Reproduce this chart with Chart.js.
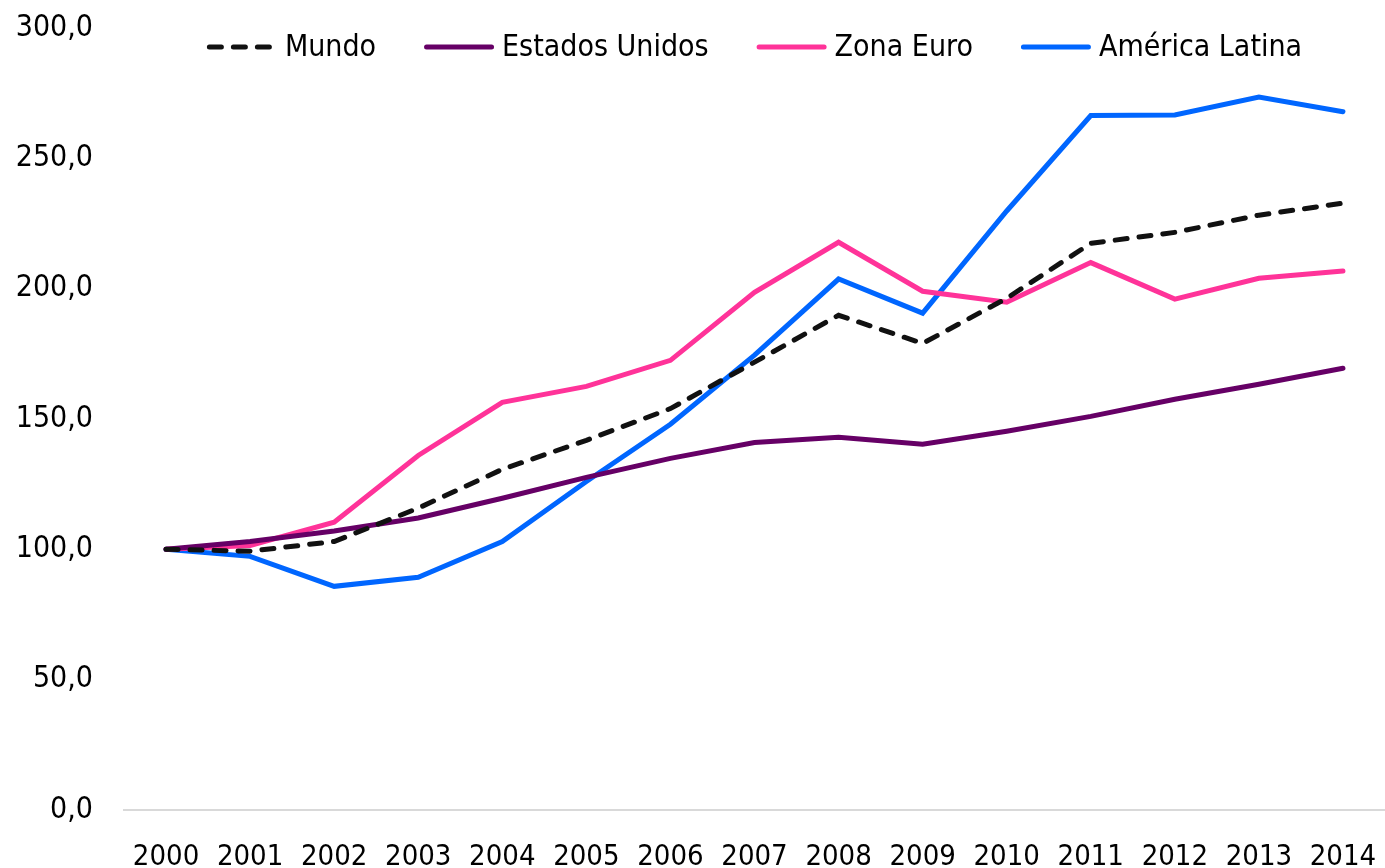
<!DOCTYPE html>
<html>
<head>
<meta charset="utf-8">
<script src="https://cdn.jsdelivr.net/npm/chart.js@4"></script>
<style>
  html, body { margin: 0; padding: 0; background: #fff; }
  #wrap { width: 1385px; height: 868px; }
</style>
</head>
<body>
<div id="wrap"><canvas id="myChart" width="1385" height="868"></canvas></div>
<script>
const years = ['2000','2001','2002','2003','2004','2005','2006','2007','2008','2009','2010','2011','2012','2013','2014'];
const mundo = [100, 99.3, 103, 115.8, 130.7, 141.8, 154, 171.8, 189.8, 179, 196.3, 217.4, 221.6, 228.2, 232.8];
const estadosUnidos = [100, 103, 107, 112, 119.6, 127.6, 134.9, 141, 143, 140.3, 145.3, 151, 157.6, 163.3, 169.5];
const zonaEuro = [100, 101.5, 110.4, 136, 156.4, 162.5, 172.5, 198.6, 217.8, 199, 194.8, 210, 196, 204, 206.8];
const americaLatina = [100, 97.3, 85.8, 89.3, 103, 126, 148, 174.5, 203.7, 190.6, 229.8, 266.4, 266.6, 273.5, 267.9];
const yTicks = [0, 50, 100, 150, 200, 250, 300];

const fontFamily = "'DejaVu Sans Condensed', 'DejaVu Sans', sans-serif";

function serie(label, data, color, dash) {
    return {
        label: label,
        data: data,
        borderColor: color,
        backgroundColor: color,
        borderWidth: 5,
        borderDash: dash,
        borderCapStyle: 'round',
        pointRadius: 0,
        tension: 0,
        fill: false,
    };
}

// legend drawn inside the plot, centred near the top (like the excel original)
const topLegend = {
    id: 'topLegend',
    afterDraw(chart) {
        const c = chart.ctx;
        const area = chart.chartArea;
        const sample = 70, gap = 8, spacing = 48;
        c.save();
        c.font = '30px ' + fontFamily;
        c.textBaseline = 'middle';
        c.textAlign = 'left';
        const items = chart.data.datasets.map(ds => ({ ds: ds, w: c.measureText(ds.label).width }));
        let total = 0;
        items.forEach((it, i) => { total += sample + gap + it.w + (i ? spacing : 0); });
        let x = (area.left + area.right) / 2 - total / 2;
        const y = 47;
        items.forEach(it => {
            c.strokeStyle = it.ds.borderColor;
            c.lineWidth = it.ds.borderWidth;
            c.lineCap = 'round';
            c.setLineDash(it.ds.borderDash || []);
            c.beginPath();
            c.moveTo(x + 2.5, y);
            c.lineTo(x + sample - 2.5, y);
            c.stroke();
            c.setLineDash([]);
            c.fillStyle = '#000';
            c.fillText(it.ds.label, x + sample + gap, y + 1);
            x += sample + gap + it.w + spacing;
        });
        c.restore();
    }
};

const ctx = document.getElementById('myChart').getContext('2d');
const myChart = new Chart(ctx, {
    type: 'line',
    data: {
        labels: years,
        datasets: [
            serie('Mundo', mundo, '#111111', [12, 12]),
            serie('Estados Unidos', estadosUnidos, '#660066', []),
            serie('Zona Euro', zonaEuro, '#ff3399', []),
            serie('América Latina', americaLatina, '#0066ff', []),
        ]
    },
    options: {
        responsive: false,
        animation: false,
        layout: {
            padding: { top: 28, right: 0, bottom: 0, left: 0 },
        },
        scales: {
            x: {
                offset: true,
                grid: { display: false, offset: true },
                border: { display: true, color: '#d9d9d9', width: 2 },
                ticks: {
                    color: '#000',
                    padding: 22,
                    maxRotation: 0,
                    autoSkip: false,
                    font: { family: fontFamily, size: 29 },
                },
                afterFit: function(scale) {
                    scale.height = 58;
                    scale.paddingLeft = 0;
                    scale.paddingRight = 0;
                },
            },
            y: {
                min: 0,
                max: 300,
                afterBuildTicks: function(scale) {
                    scale.ticks = yTicks.map(v => ({ value: v }));
                },
                grid: { display: false },
                border: { display: false },
                ticks: {
                    color: '#000',
                    padding: 23,
                    font: { family: fontFamily, size: 30 },
                    callback: v => v.toFixed(1).replace('.', ','),
                },
                afterFit: function(scale) {
                    scale.width = 124;
                    scale.paddingTop = 0;
                    scale.paddingBottom = 0;
                },
            },
        },
        plugins: {
            legend: { display: false },
            tooltip: { enabled: false },
        }
    },
    plugins: [topLegend]
});
</script>
</body>
</html>
